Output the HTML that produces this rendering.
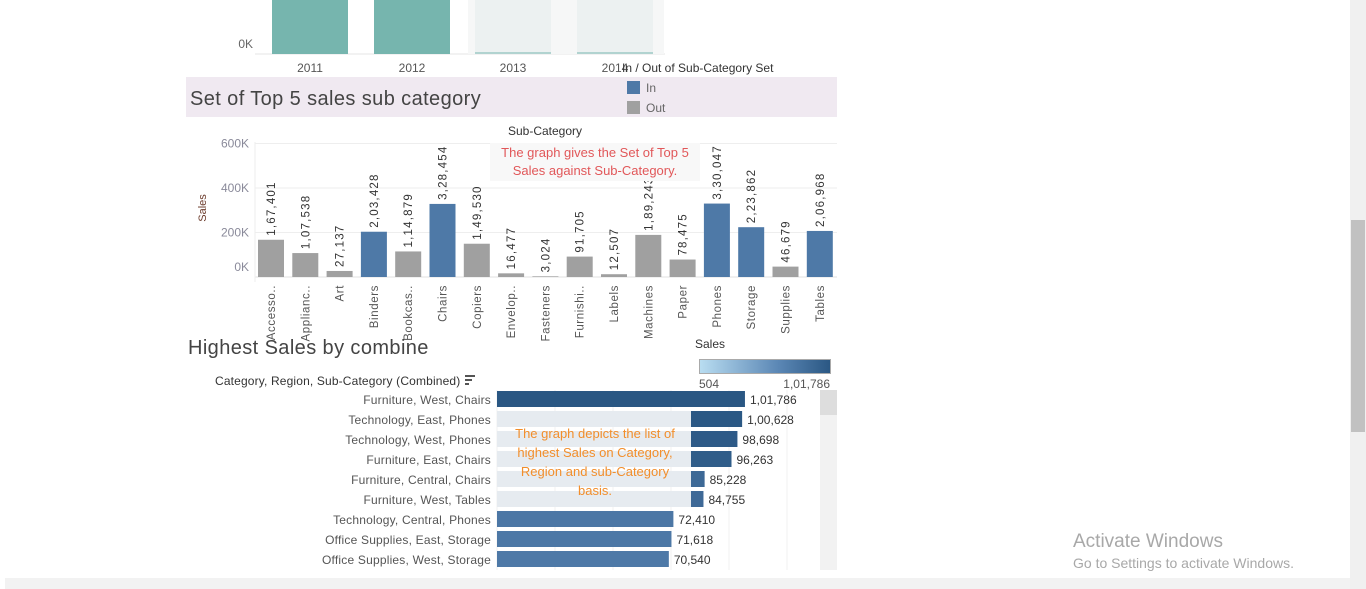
<!DOCTYPE html>
<html><head><meta charset="utf-8"><style>
body{margin:0;width:1366px;height:589px;overflow:hidden;background:#fff;font-family:"Liberation Sans",sans-serif;position:relative}
</style></head><body>
<svg width="1366" height="589" style="position:absolute;left:0;top:0">
<g>
<line x1="255" y1="54" x2="665" y2="54" stroke="#e6e6e6"/>
<rect x="272" y="0" width="76" height="54" fill="#76b5ae"/>
<rect x="374" y="0" width="76" height="54" fill="#76b5ae"/>
<rect x="468" y="0" width="196" height="54" fill="#f6f7f7"/>
<rect x="475" y="0" width="76" height="54" fill="#ecf1f1"/>
<rect x="577" y="0" width="76" height="54" fill="#ecf1f1"/>
<line x1="475" y1="53" x2="551" y2="53" stroke="#76b5ae"/>
<line x1="577" y1="53" x2="653" y2="53" stroke="#76b5ae"/>
<text x="253" y="48" font-size="12" fill="#666" text-anchor="end">0K</text>
<text x="310" y="72" font-size="12" fill="#555" text-anchor="middle">2011</text>
<text x="412" y="72" font-size="12" fill="#555" text-anchor="middle">2012</text>
<text x="513" y="72" font-size="12" fill="#555" text-anchor="middle">2013</text>
<text x="615" y="72" font-size="12" fill="#555" text-anchor="middle">2014</text>
</g>
<rect x="186" y="77" width="651" height="40" fill="#f0e9f1"/>
<text x="190" y="105" font-size="20" fill="#444" letter-spacing="0.4">Set of Top 5 sales sub category</text>
<text x="622" y="72" font-size="12" fill="#333">In / Out of Sub-Category Set</text>
<rect x="627" y="81" width="13" height="13" fill="#4e79a7"/>
<text x="646" y="92" font-size="12" fill="#666">In</text>
<rect x="627" y="101" width="13" height="13" fill="#a0a0a0"/>
<text x="646" y="112" font-size="12" fill="#666">Out</text>
<text x="545" y="135" font-size="12" fill="#333" text-anchor="middle">Sub-Category</text>
<text x="206" y="208" font-size="11" fill="#6b3a2a" transform="rotate(-90 206 208)" text-anchor="middle">Sales</text>
<g id="mid"></g>
<rect x="490" y="143" width="210" height="38" fill="#f8f8f8"/>
<text x="595" y="157" font-size="13" fill="#e15759" text-anchor="middle">The graph gives the Set of Top 5</text>
<text x="595" y="175" font-size="13" fill="#e15759" text-anchor="middle">Sales against Sub-Category.</text>
<text x="188" y="354" font-size="20" fill="#444" letter-spacing="0.4">Highest Sales by combine</text>
<text x="710" y="348" font-size="12" fill="#333" text-anchor="middle">Sales</text>
<defs><linearGradient id="g"><stop offset="0" stop-color="#b9ddf1"/><stop offset="0.6" stop-color="#5b87b5"/><stop offset="1" stop-color="#2a5783"/></linearGradient></defs>
<rect x="699.5" y="359.5" width="131" height="14" fill="url(#g)" stroke="#aaa"/>
<text x="699" y="388" font-size="12" fill="#555">504</text>
<text x="830" y="388" font-size="12" fill="#555" text-anchor="end">1,01,786</text>
<text x="215" y="385" font-size="12" fill="#333" letter-spacing="0.15">Category, Region, Sub-Category (Combined)</text>
<g><rect x="465" y="375" width="10" height="2" fill="#555"/><rect x="465" y="379" width="7" height="2" fill="#555"/><rect x="465" y="383" width="4" height="2" fill="#555"/></g>
<rect x="820" y="390" width="17" height="180" fill="#f2f2f2"/>
<rect x="820" y="390" width="17" height="25" fill="#ddd"/>
<g id="bot"></g>
<rect x="5" y="578" width="1345" height="11" fill="#f2f2f2"/>
<rect x="1350" y="0" width="16" height="589" fill="#f0f0f0"/>
<rect x="1351" y="220" width="14" height="212" fill="#c1c1c1"/>
<text x="1073" y="547" font-size="19" fill="#a8a8a8">Activate Windows</text>
<text x="1073" y="568" font-size="14" fill="#a8a8a8">Go to Settings to activate Windows.</text>
</svg>
<script>
const NS="http://www.w3.org/2000/svg";
function mk(p,tag,a){const e=document.createElementNS(NS,tag);for(const k in a)e.setAttribute(k,a[k]);p.appendChild(e);return e;}
const subCats=["Accesso..","Applianc..","Art","Binders","Bookcas..","Chairs","Copiers","Envelop..","Fasteners","Furnishi..","Labels","Machines","Paper","Phones","Storage","Supplies","Tables"];
const subSales=[167401,107538,27137,203428,114879,328454,149530,16477,3024,91705,12507,189243,78475,330047,223862,46679,206968];
const subLabels=["1,67,401","1,07,538","27,137","2,03,428","1,14,879","3,28,454","1,49,530","16,477","3,024","91,705","12,507","1,89,243","78,475","3,30,047","2,23,862","46,679","2,06,968"];
const subInSet=[0,0,0,1,0,1,0,0,0,0,0,0,0,1,1,0,1];
const yTicks=[0,200000,400000,600000];
const yTickLabels=["0K","200K","400K","600K"];
const combos=["Furniture, West, Chairs","Technology, East, Phones","Technology, West, Phones","Furniture, East, Chairs","Furniture, Central, Chairs","Furniture, West, Tables","Technology, Central, Phones","Office Supplies, East, Storage","Office Supplies, West, Storage"];
const comboSales=[101786,100628,98698,96263,85228,84755,72410,71618,70540];
const comboLabels=["1,01,786","1,00,628","98,698","96,263","85,228","84,755","72,410","71,618","70,540"];

const mid=document.getElementById('mid');
const y=v=>277-v*0.0002225;
const xc=i=>271+i*34.3;
yTicks.forEach((t,i)=>{
 const l=mk(mid,'line',{x1:255,x2:837,y1:y(t),y2:y(t),stroke:i?'#eeeeee':'#e0e0e0'});
 
 
 const tx=mk(mid,'text',{x:249,y:y(t)+(i==0?-6:4),'font-size':12,fill:'#8a8a9a','text-anchor':'end'});tx.textContent=yTickLabels[i];
 
 
});
mk(mid,'line',{x1:255,x2:255,y1:142,y2:282,stroke:'#eee'});
subCats.forEach((c,i)=>{
 const r=mk(mid,'rect',{x:xc(i)-13,y:y(subSales[i]),width:26,height:277-y(subSales[i]),fill:subInSet[i]?'#4e79a7':'#a0a0a0'});
 
 
 const lx=xc(i)+4,ly=y(subSales[i])-4;
 const t=mk(mid,'text',{x:lx,y:ly,'font-size':11.5,fill:'#333','letter-spacing':'1.2',transform:`rotate(-90 ${lx} ${ly})`});t.textContent=subLabels[i];
 
 
 const cx=xc(i)+4,cy=285;
 const c2=mk(mid,'text',{x:cx,y:cy,'font-size':11.5,fill:'#555','letter-spacing':'0.6','text-anchor':'end',transform:`rotate(-90 ${cx} ${cy})`});c2.textContent=c;
 
 
});
const bot=document.getElementById('bot');
const bx=v=>497+v*0.002436;
[0,1,2,3,4,5].forEach(k=>{const gx=497+k*58;mk(bot,'line',{x1:gx,x2:gx,y1:390,y2:570,stroke:'#f0f0f0'});});
const maxS=101786,minS=504;
function mix(a,b,t){return a.map((c,j)=>Math.round(c+(b[j]-c)*t));}
function col(v){const f=(v-minS)/(maxS-minS);const A=[185,221,241],M=[78,121,167],B=[42,87,131];
 const c=f<0.69?mix(A,M,f/0.69):mix(M,B,(f-0.69)/0.31);return `rgb(${c.join(',')})`;}
combos.forEach((c,i)=>{
 const cy=399+i*20;
 const r=mk(bot,'rect',{x:497,y:cy-8,width:bx(comboSales[i])-497,height:16,fill:col(comboSales[i])});
 
 
 const t=mk(bot,'text',{x:bx(comboSales[i])+5,y:cy+5,'font-size':12,fill:'#333'});t.textContent=comboLabels[i];
 
 
 const l=mk(bot,'text',{x:491,y:cy+5,'font-size':12,fill:'#555','text-anchor':'end','letter-spacing':'0.2'});l.textContent=c;
 
 
});
[1,2,3,4,5].forEach(i=>{const cy=399+i*20;mk(bot,'rect',{x:497,y:cy-8,width:194,height:16,fill:'#e6ebf0'});});
const an=["The graph depicts the list of","highest Sales on Category,","Region and sub-Category","basis."];
an.forEach((s,i)=>{const t=mk(bot,'text',{x:595,y:438+i*19,'font-size':13,fill:'#f28e2b','text-anchor':'middle'});t.textContent=s;
 
 });
</script>
</body></html>
